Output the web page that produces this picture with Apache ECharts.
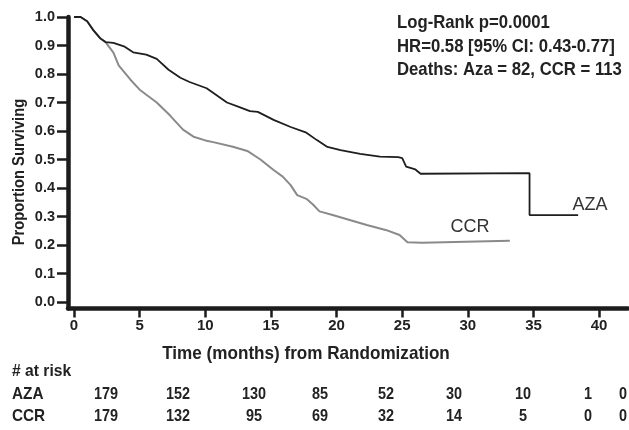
<!DOCTYPE html>
<html><head><meta charset="utf-8">
<script src="https://cdn.jsdelivr.net/npm/echarts@6/dist/echarts.min.js"></script>
<style>html,body{margin:0;padding:0;background:#fff}#c{width:629px;height:430px}</style>
</head><body><div id="c"></div>
<script>
// ---- data ----
const azaTime = [0, 0.5, 1.0, 1.45, 2.0, 2.4, 3.0, 3.8, 4.5, 5.5, 6.3, 7.2, 8.1, 8.8, 10.1, 11.65, 12.6, 13.4, 14.0, 15.2, 16.5, 17.7, 18.5, 19.3, 20.3, 21.8, 23.3, 24.7, 25.0, 25.3, 26.0, 26.4, 34.7, 34.7, 38.4];
const azaSurv = [1.0, 1.0, 0.985, 0.955, 0.925, 0.912, 0.909, 0.897, 0.876, 0.868, 0.853, 0.815, 0.787, 0.772, 0.75, 0.70, 0.684, 0.670, 0.667, 0.639, 0.614, 0.594, 0.568, 0.544, 0.533, 0.52, 0.51, 0.508, 0.505, 0.475, 0.465, 0.45, 0.452, 0.305, 0.305];
const ccrTime = [0, 0.5, 1.0, 1.45, 2.0, 2.4, 3.0, 3.4, 4.3, 5.0, 6.3, 7.3, 8.3, 9.1, 10.0, 10.6, 12.1, 13.2, 14.2, 15.2, 15.9, 16.5, 17.0, 17.7, 18.2, 18.7, 19.7, 21.0, 22.3, 23.8, 24.8, 25.4, 26.5, 33.2];
const ccrSurv = [1.0, 1.0, 0.985, 0.955, 0.925, 0.912, 0.875, 0.83, 0.78, 0.745, 0.70, 0.655, 0.605, 0.58, 0.567, 0.561, 0.545, 0.53, 0.50, 0.463, 0.44, 0.41, 0.375, 0.362, 0.342, 0.318, 0.305, 0.288, 0.27, 0.252, 0.235, 0.21, 0.208, 0.215];
const xTicks = [0, 5, 10, 15, 20, 25, 30, 35, 40];
const yTicks = [0, 0.1, 0.2, 0.3, 0.4, 0.5, 0.6, 0.7, 0.8, 0.9, 1.0];
const riskGroups = ['AZA', 'CCR'];
const azaRisk = [179, 152, 130, 85, 52, 30, 10, 1, 0];
const ccrRisk = [179, 132, 95, 69, 32, 14, 5, 0, 0];
const statLines = ['Log-Rank p=0.0001', 'HR=0.58 [95% CI: 0.43-0.77]', 'Deaths: Aza = 82, CCR = 113'];

// ---- layout ----
const SANS = '"Liberation Sans",Arial,sans-serif';
const INK = '#1c1c1c';
const riskCols = [106, 178, 254, 320, 386, 454, 523, 588, 623];
const riskRowsY = [394, 416];

const zip = (t, s) => t.map((v, i) => [v, s[i]]);
const chart = echarts.init(document.getElementById('c'));

const graphics = [];
statLines.forEach((t, i) => graphics.push({
  type: 'text', x: 397, y: 23 + i * 23.5, scaleX: 0.88,
  style: { text: t, font: 'bold 19px ' + SANS, fill: '#222', verticalAlign: 'middle' }
}));
graphics.push({ type: 'text', x: 20, y: 172, rotation: Math.PI / 2, scaleX: 0.92,
  style: { text: 'Proportion Surviving', font: 'bold 16px ' + SANS, fill: '#222', align: 'center', verticalAlign: 'middle' } });
graphics.push({ type: 'text', x: 306, y: 354, scaleX: 0.9,
  style: { text: 'Time (months) from Randomization', font: 'bold 19px ' + SANS, fill: '#222', align: 'center', verticalAlign: 'middle' } });
graphics.push({ type: 'text', x: 12, y: 371, scaleX: 0.92,
  style: { text: '# at risk', font: 'bold 17px ' + SANS, fill: '#222', verticalAlign: 'middle' } });
graphics.push({ type: 'text', x: 470, y: 227,
  style: { text: 'CCR', font: '18px ' + SANS, fill: '#333', align: 'center', verticalAlign: 'middle' } });
graphics.push({ type: 'text', x: 590, y: 205,
  style: { text: 'AZA', font: '18px ' + SANS, fill: '#333', align: 'center', verticalAlign: 'middle' } });
[azaRisk, ccrRisk].forEach((row, r) => {
  graphics.push({ type: 'text', x: 12, y: riskRowsY[r], scaleX: 0.9,
    style: { text: riskGroups[r], font: 'bold 17px ' + SANS, fill: '#222', verticalAlign: 'middle' } });
  row.forEach((v, i) => graphics.push({ type: 'text', x: riskCols[i], y: riskRowsY[r], scaleX: 0.85,
    style: { text: String(v), font: 'bold 17px ' + SANS, fill: '#222', align: 'center', verticalAlign: 'middle' } }));
});

chart.setOption({
  animation: false,
  backgroundColor: '#fff',
  grid: { left: 68, right: 1, top: 17, bottom: 121.5, containLabel: false },
  xAxis: {
    type: 'value', min: -0.46, max: 42.2,
    axisLine: { onZero: false, lineStyle: { color: INK, width: 4.5 } },
    axisTick: { customValues: xTicks, length: 9, lineStyle: { color: INK, width: 2.5 } },
    axisLabel: { customValues: xTicks, margin: 10, fontSize: 15, fontWeight: 'bold', fontFamily: SANS, color: '#222' },
    splitLine: { show: false }
  },
  yAxis: {
    type: 'value', min: -0.0228, max: 1.0,
    axisLine: { show: true, onZero: false, lineStyle: { color: INK, width: 4.5 } },
    axisTick: { show: true, customValues: yTicks, length: 11, lineStyle: { color: INK, width: 2.5 } },
    axisLabel: { customValues: yTicks, margin: 13, fontSize: 14.5, fontWeight: 'bold', fontFamily: SANS, color: '#222',
      formatter: v => v.toFixed(1) },
    splitLine: { show: false }
  },
  series: [
    { name: 'CCR', type: 'line', data: zip(ccrTime, ccrSurv), showSymbol: false, symbol: 'none',
      lineStyle: { color: '#8a8a8a', width: 2 }, z: 2 },
    { name: 'AZA', type: 'line', data: zip(azaTime, azaSurv), showSymbol: false, symbol: 'none',
      lineStyle: { color: '#1e1e1e', width: 1.8 }, z: 3 }
  ],
  graphic: graphics
});
</script></body></html>
